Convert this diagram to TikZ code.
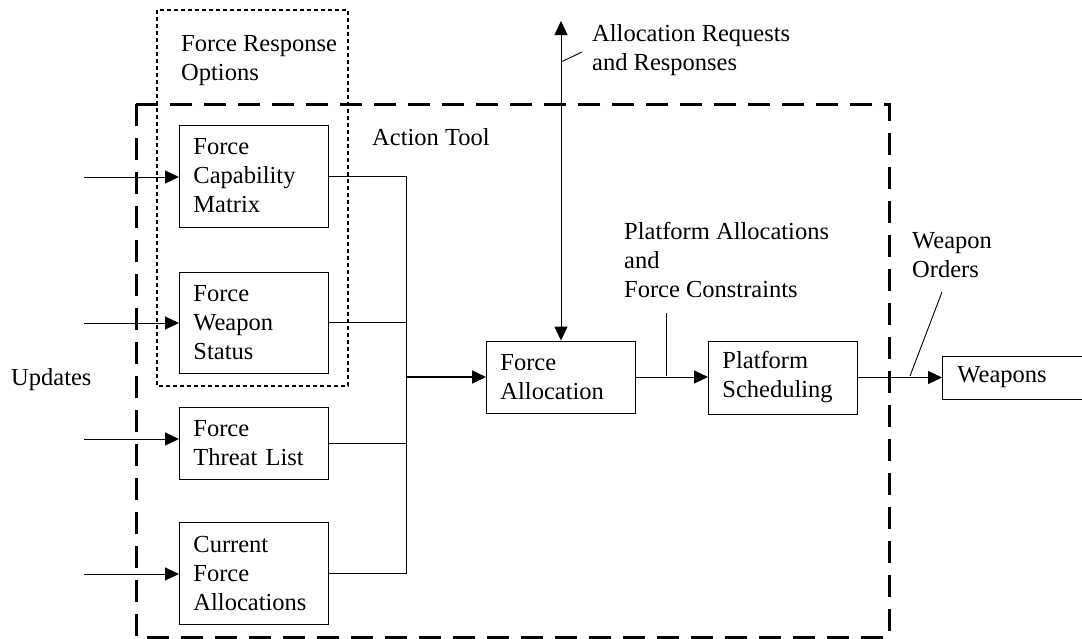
\documentclass[tikz,border=0pt]{standalone}
\usepackage{fontspec}
\setmainfont{Liberation Serif}
\usetikzlibrary{arrows.meta}

\begin{document}
\begin{tikzpicture}[x=1pt, y=-1pt,
    font=\fontsize{24.5}{29}\selectfont,
    blk/.style={draw, line width=0.9pt, rectangle, align=left, text width=121pt,
      inner xsep=14pt, inner ysep=0pt},
    lbl/.style={anchor=base west, align=left, inner sep=0pt},
    arr/.style={-{Triangle[length=14pt, width=13pt]}, line width=1pt},
    wire/.style={line width=0.9pt}]
  \useasboundingbox (0,0) rectangle (1082,638);

  % outer frames
  \draw[line width=3pt, dash pattern=on 22pt off 12pt] (136,104) rectangle (889,637);
  \draw[line width=1.8pt, dash pattern=on 4pt off 3pt] (157,10) rectangle (348,386);

  % blocks
  \node[blk, anchor=west, minimum height=102pt] (fcm) at (179,176) {Force\\Capability\\Matrix};
  \node[blk, anchor=west, minimum height=101pt] (fws) at (179,322.5) {Force\\Weapon\\Status};
  \node[blk, anchor=west, minimum height=72pt] (ftl) at (179,443) {Force\\Threat List};
  \node[blk, anchor=west, minimum height=102pt] (cfa) at (179,573) {Current\\Force\\Allocations};
  \node[blk, anchor=west, minimum height=72pt] (fa) at (486,377) {Force\\Allocation};
  \node[blk, anchor=west, minimum height=73pt] (ps) at (708,377.5) {Platform\\Scheduling};
  \node[blk, anchor=west, minimum height=43pt, text width=160pt, inner xsep=15pt] (w) at (942,377.5) {\raisebox{-2pt}{Weapons}};

  % labels (base = last line)
  \node[lbl] (fro) at (181,80) {Force Response\\Options};
  \node[lbl] (at) at (372,145) {Action Tool};
  \node[lbl] (upd) at (11,385) {Updates};
  \node[lbl] (arr) at (592,70) {Allocation Requests\\and Responses};
  \node[lbl] (pa) at (624,297) {Platform Allocations\\and\\Force Constraints};
  \node[lbl] (wo) at (912,277) {Weapon\\Orders};

  % update inputs
  \coordinate (in1) at (84,177);
  \coordinate (in2) at (84,323);
  \coordinate (in3) at (84,439);
  \coordinate (in4) at (84,574);
  \draw[arr] (in1) -- (in1 -| fcm.west);
  \draw[arr] (in2) -- (in2 -| fws.west);
  \draw[arr] (in3) -- (in3 -| ftl.west);
  \draw[arr] (in4) -- (in4 -| cfa.west);

  % bus into force allocation
  \coordinate (bus) at (406,0);
  \draw[wire] (fcm.east) -- (fcm.east -| bus) |- (cfa.east);
  \draw[wire] (fws.east) -- (fws.east -| bus);
  \draw[wire] (ftl.east) -- (ftl.east -| bus);
  \draw[arr, line width=1.6pt] (bus |- fa.west) -- (fa.west);

  % requests and flow to weapons
  \coordinate (up) at (561,21);
  \draw[arr, {Triangle[length=14pt, width=13pt]}-{Triangle[length=14pt, width=13pt]}] (up) -- (up |- fa.north);
  \draw[arr] (fa.east) -- (fa.east -| ps.west);
  \draw[arr] (ps.east) -- (ps.east -| w.west);

  % label leaders
  \draw[wire] (561,62) -- (582,52);
  \draw[wire] (666,313) -- (666,376);
  \draw[wire] (910,376) -- (942,292);
\end{tikzpicture}
\end{document}
